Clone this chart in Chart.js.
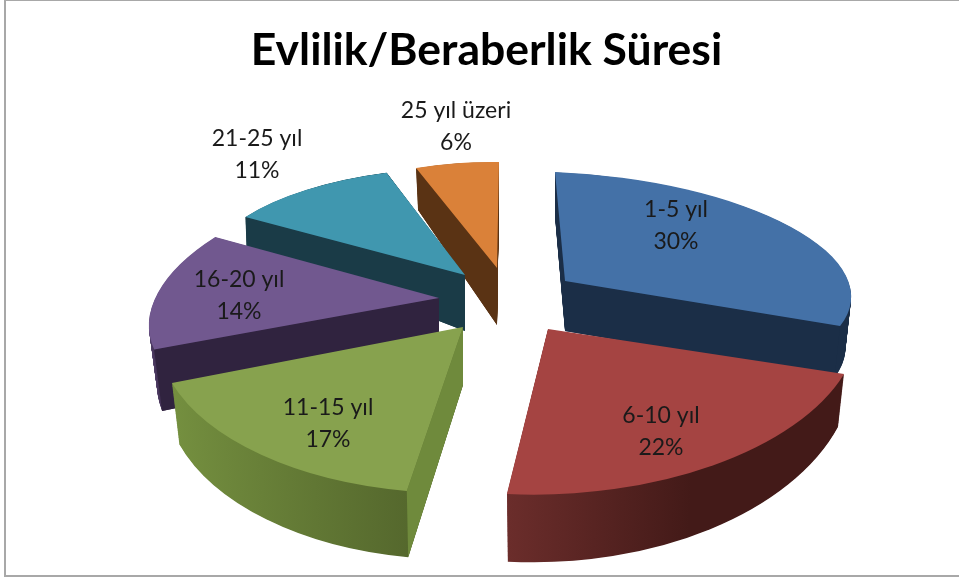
<!DOCTYPE html>
<html>
<head>
<meta charset="utf-8">
<title>Evlilik/Beraberlik Süresi</title>
<script src="https://cdn.jsdelivr.net/npm/chart.js@4/dist/chart.umd.min.js"></script>
<style>
	html, body { margin: 0; padding: 0; background: #fff; overflow: hidden; }
	canvas { display: block; filter: blur(0.45px); }
</style>
</head>
<body>
<canvas id="pieChart" width="959" height="581"></canvas>
<script>
const chartTitle = 'Evlilik/Beraberlik Süresi';
const categories = ['1-5 yıl', '6-10 yıl', '11-15 yıl', '16-20 yıl', '21-25 yıl', '25 yıl üzeri'];
const shares = [30, 22, 17, 14, 11, 6];

const topColors = ['#4471A7', '#A54442', '#87A24E', '#71588F', '#4097AF', '#DA8139'];
const faceColors = ['#1B2E47', '#431A18', '#6F8A3C', '#30233F', '#1A3B47', '#5A3314'];
const wallLight = ['#1B2E47', '#6B2D2B', '#748F3F', '#5B4674', '#1A3B47', '#5A3314'];
const wallDark = ['#1B2E47', '#431A18', '#55682D', '#30233F', '#1A3B47', '#5A3314'];
const wallFade = [1, 0.55, 1, 1, 1, 1];

// the old 3d look: every slice gets its own flattening, shift and wall height
const sliceViews = [
	{a: 286, b: 10, c: 12, d: 109, x: 565, y: 281, depth: 50, growY: 0.03, narrowX: -0.02},
	{a: 312, b: -2, c: -6.5, d: 165.5, x: 548, y: 329, depth: 47, growY: 0.125, narrowX: -0.02},
	{a: 306, b: -18, c: 5.4, d: 166, x: 463, y: 327, depth: 58, growY: 0.05, narrowX: -0.025},
	{a: 285, b: -54, c: -3, d: 132, x: 439, y: 298, depth: 55, growY: 0.13, narrowX: -0.028},
	{a: 261, b: -19, c: 7.5, d: 107, x: 465, y: 275, depth: 56, growY: 0.45, narrowX: -0.005},
	{a: 225, b: -2, c: 4, d: 106, x: 497, y: 268, depth: 57, growY: 0.15, narrowX: -0.025}
];
const drawOrder = [5, 4, 0, 3, 1, 2];
const labelSpots = [[676, 210], [661, 416], [328, 408], [239, 280], [257, 139], [456, 111]];
const pieRadius = 300;

function viewMatrix(i, t) {
	const v = sliceViews[i];
	const k = 1 + v.narrowX * t;
	const g = 1 + v.growY * t;
	return [v.a * k, v.b * k, v.c * g, v.d * g, v.x, v.y + v.depth * t];
}

function applyView(ctx, arc, i, t) {
	const m = viewMatrix(i, t);
	ctx.transform(m[0] / pieRadius, m[2] / pieRadius, m[1] / pieRadius, m[3] / pieRadius, m[4], m[5]);
	ctx.translate(-arc.x, -arc.y);
}

function project(i, ux, uy, t) {
	const m = viewMatrix(i, t);
	return [m[0] * ux + m[1] * uy + m[4], m[2] * ux + m[3] * uy + m[5]];
}

function paintArc(ctx, arc, i, t, fill) {
	const old = arc.options;
	arc.options = Object.assign(Object.create(old), {backgroundColor: fill});
	ctx.save();
	applyView(ctx, arc, i, t);
	arc.draw(ctx);
	ctx.restore();
	arc.options = old;
}

function paintFace(ctx, i, angle) {
	const ux = Math.cos(angle), uy = Math.sin(angle);
	const pts = [project(i, 0, 0, 0), project(i, ux, uy, 0), project(i, ux, uy, 1), project(i, 0, 0, 1)];
	ctx.fillStyle = faceColors[i];
	ctx.beginPath();
	pts.forEach(function(p, n) { n ? ctx.lineTo(p[0], p[1]) : ctx.moveTo(p[0], p[1]); });
	ctx.closePath();
	ctx.fill();
}

function wallGradient(ctx, arc, i) {
	let lo = 1, hi = -1;
	for (let s = 0; s <= 20; s++) {
		const ux = Math.cos(arc.startAngle + (arc.endAngle - arc.startAngle) * s / 20);
		lo = Math.min(lo, ux);
		hi = Math.max(hi, ux);
	}
	const grad = ctx.createLinearGradient(arc.x + lo * pieRadius, 0, arc.x + hi * pieRadius, 0);
	grad.addColorStop(0, wallLight[i]);
	grad.addColorStop(wallFade[i], wallDark[i]);
	grad.addColorStop(1, wallDark[i]);
	return grad;
}

const slicedPie = {
	id: 'slicedPie',
	beforeDraw(chart) {
		const ctx = chart.ctx;
		ctx.save();
		ctx.strokeStyle = '#a8a8a8';
		ctx.lineWidth = 2;
		ctx.strokeRect(5, 0, 1000, 576);
		ctx.restore();
	},
	beforeDatasetsDraw(chart) {
		const ctx = chart.ctx;
		const arcs = chart.getDatasetMeta(0).data;
		drawOrder.forEach(function(i) {
			const arc = arcs[i];
			const grad = wallGradient(ctx, arc, i);
			const steps = Math.ceil(sliceViews[i].depth * 1.5);
			for (let s = steps; s > 0; s--) {
				paintArc(ctx, arc, i, s / steps, grad);
			}
			// only the cut faces turned to the viewer show up
			if (Math.sin(arc.endAngle + Math.PI / 2) > 0.01) paintFace(ctx, i, arc.endAngle);
			if (-Math.sin(arc.startAngle + Math.PI / 2) > 0.01) paintFace(ctx, i, arc.startAngle);
			paintArc(ctx, arc, i, 0, topColors[i]);
		});
		ctx.save();
		ctx.fillStyle = '#1a1a1a';
		ctx.font = '23px Lato';
		ctx.textAlign = 'center';
		ctx.textBaseline = 'middle';
		categories.forEach(function(name, i) {
			ctx.fillText(name, labelSpots[i][0], labelSpots[i][1]);
			ctx.fillText(shares[i] + '%', labelSpots[i][0], labelSpots[i][1] + 32);
		});
		ctx.restore();
		return false;
	}
};

new Chart(document.getElementById('pieChart'), {
	type: 'pie',
	data: {
		labels: categories,
		datasets: [
			{
				data: shares,
				backgroundColor: topColors,
				borderWidth: 0
			}
		]
	},
	options: {
		responsive: false,
		animation: false,
		events: [],
		radius: pieRadius,
		layout: { padding: { left: 14 } },
		plugins: {
			legend: { display: false },
			tooltip: { enabled: false },
			title: {
				display: true,
				text: chartTitle,
				color: '#000',
				font: { family: 'Lato', size: 44.5, weight: 'bold' },
				padding: { top: 24, bottom: 10 }
			}
		}
	},
	plugins: [slicedPie]
});
</script>
</body>
</html>
